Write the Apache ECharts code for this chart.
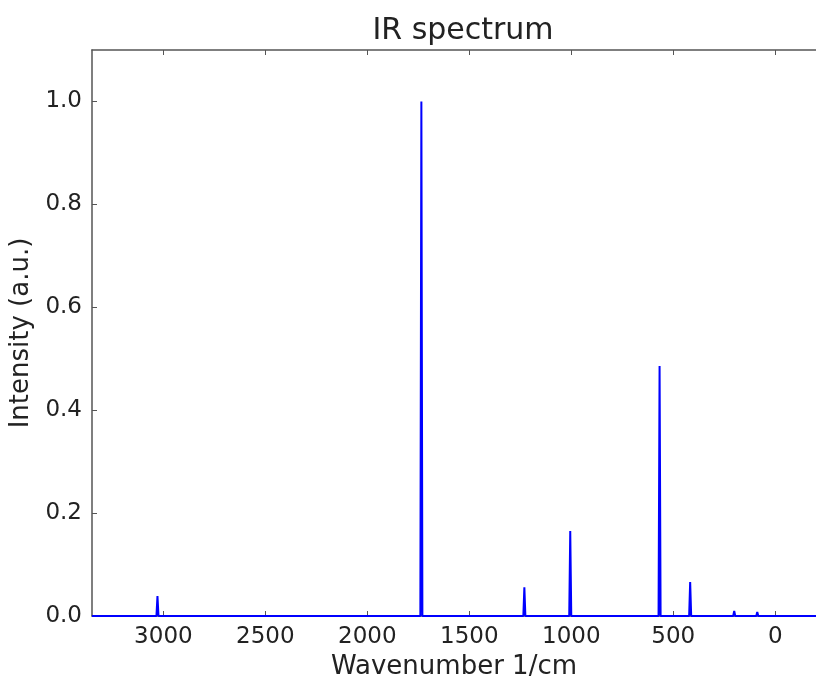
<!DOCTYPE html>
<html>
<head>
<meta charset="utf-8">
<script src="https://cdn.jsdelivr.net/npm/echarts@6/dist/echarts.min.js"></script>
<style>
  html, body { margin: 0; padding: 0; background: #fff; }
  #main { width: 816px; height: 677px; }
</style>
</head>
<body>
<div id="main"></div>
<script>
// peaks (wavenumber, normalised intensity)
var peakPos    = [3029, 1735, 1230, 1005, 567, 417, 201, 88];
var peakHeight = [0.039, 1.0, 0.056, 0.165, 0.486, 0.066, 0.010, 0.008];
var halfWidth  = 5;             // base half width of each stick, 1/cm
var baseRange  = [3350, -200];  // flat baseline at zero
var xTicks = [0, 500, 1000, 1500, 2000, 2500, 3000];
var yTicks = [0, 0.2, 0.4, 0.6, 0.8, 1.0];

// spectrum line: baseline plus a narrow spike for each peak
var spec = [[baseRange[0], 0]];
for (var i = 0; i < peakPos.length; i++) {
  spec.push([peakPos[i] + halfWidth, 0]);
  spec.push([peakPos[i], peakHeight[i]]);
  spec.push([peakPos[i] - halfWidth, 0]);
}
spec.push([baseRange[1], 0]);

var axisCol = '#555';
var font = 'DejaVu Sans';

var chart = echarts.init(document.getElementById('main'));
var option = {
  backgroundColor: '#fff',
  animation: false,
  title: {
    text: 'IR spectrum',
    left: 458, top: 11, textAlign: 'center',
    textStyle: { fontFamily: font, fontSize: 30, fontWeight: 'normal', color: '#222' }
  },
  grid: { left: 92, right: 0, top: 50, bottom: 61, outerBoundsMode: 'none', containLabel: false },
  xAxis: [{
    type: 'value',
    min: -200, max: 3350,
    inverse: true,
    name: 'Wavenumber 1/cm',
    nameLocation: 'middle',
    nameGap: 33,
    nameTextStyle: { fontFamily: font, fontSize: 26, color: '#222' },
    axisLine: { onZero: false, lineStyle: { color: axisCol, width: 1.5 } },
    axisTick: { inside: true, length: 5, customValues: xTicks, lineStyle: { color: axisCol } },
    axisLabel: {
      customValues: xTicks, fontFamily: font, fontSize: 23, color: '#222', margin: 10,
      formatter: function (v) { return String(v); }
    },
    splitLine: { show: false }
  }, {
    type: 'value',
    position: 'top',
    min: -200, max: 3350,
    inverse: true,
    axisLine: { onZero: false, lineStyle: { color: axisCol, width: 1.5 } },
    axisTick: { inside: true, length: 5, customValues: xTicks, lineStyle: { color: axisCol } },
    axisLabel: { show: false },
    splitLine: { show: false }
  }],
  yAxis: {
    type: 'value',
    position: 'left',
    min: 0, max: 1.1,
    name: 'Intensity (a.u.)',
    nameLocation: 'middle',
    nameGap: 56,
    nameTextStyle: { fontFamily: font, fontSize: 26, color: '#222' },
    axisLine: { show: true, onZero: false, lineStyle: { color: axisCol, width: 1.5 } },
    axisTick: { show: true, inside: true, length: 5, customValues: yTicks, lineStyle: { color: axisCol } },
    axisLabel: {
      customValues: yTicks, fontFamily: font, fontSize: 23, color: '#222', margin: 10,
      formatter: function (v) { return v.toFixed(1); }
    },
    splitLine: { show: false }
  },
  series: [{
    type: 'line',
    xAxisIndex: 0,
    data: spec,
    showSymbol: false,
    lineStyle: { color: '#0000ff', width: 2 },
    z: 1
  }]
};
chart.setOption(option);
window.addEventListener('resize', function () {
  chart.resize();
});
</script>
</body>
</html>
